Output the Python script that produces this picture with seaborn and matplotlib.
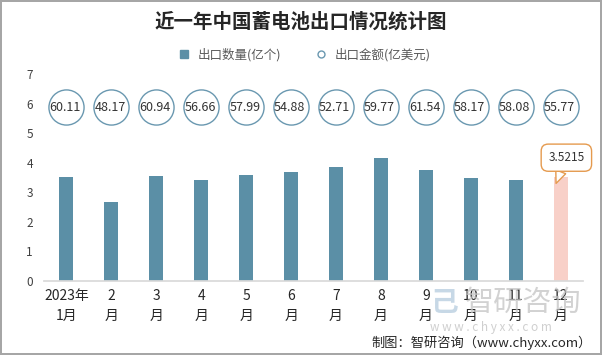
import matplotlib
matplotlib.use("Agg")
import matplotlib.pyplot as plt
import seaborn as sns
from matplotlib.lines import Line2D

# data
months = ["2023年\n1月", "2\n月", "3\n月", "4\n月", "5\n月", "6\n月",
          "7\n月", "8\n月", "9\n月", "10\n月", "11\n月", "12\n月"]
qty = [3.52, 2.68, 3.55, 3.43, 3.57, 3.67, 3.84, 4.15, 3.77, 3.47, 3.40, 3.5215]
amount = [60.11, 48.17, 60.94, 56.66, 57.99, 54.88, 52.71, 59.77, 61.54, 58.17, 58.08, 55.77]
bubble_y = [5.88] * 12

bar_color = "#5B8FA6"
last_color = "#F8D0C8"
orange = "#E59A4E"

sns.set_theme(style="white")
plt.rcParams["font.family"] = ["Noto Sans CJK SC", "DejaVu Sans"]

fig = plt.figure(figsize=(6.02, 3.55), dpi=100)
fig.patch.set_edgecolor("#A6A6A6")
fig.patch.set_linewidth(1.5)
ax = fig.add_axes([44 / 602, 1 - 281 / 355, 539 / 602, 207 / 355])

colors = [bar_color] * 11 + [last_color]
sns.barplot(x=months, y=qty, hue=months, palette=colors, legend=False,
            width=0.31, ax=ax, linewidth=0, saturation=1)

xs = list(range(len(months)))
sns.scatterplot(x=xs, y=bubble_y, s=640, facecolor="white", edgecolor="#6A98B0",
                linewidth=1, ax=ax, zorder=3, legend=False)
for x, y, v in zip(xs, bubble_y, amount):
    ax.text(x - 0.03, y, f"{v:.2f}", ha="center", va="center", fontsize=9,
            color="#333333", zorder=4)

# callout on the last bar
ax.annotate("3.5215", xy=(10.9, 3.3), xytext=(11.13, 4.17),
            ha="center", va="center", fontsize=8.5, color="#333333",
            bbox=dict(boxstyle="round,pad=0.6", fc="white", ec=orange, lw=1),
            arrowprops=dict(arrowstyle="wedge,tail_width=0.9", fc="white", ec=orange,
                            lw=1, shrinkA=0, shrinkB=0),
            zorder=5)

ax.set_ylim(0, 7)
ax.set_xlim(-0.5, 11.5)
ax.set_yticks(range(8))
ax.tick_params(axis="y", labelsize=8.5, labelcolor="#404040", pad=8, length=0)
ax.tick_params(axis="x", labelsize=10, labelcolor="#262626", pad=6, length=0)
for lab in ax.get_xticklabels():
    lab.set_linespacing(1.5)
ax.set_xlabel("")
ax.set_ylabel("")
sns.despine(ax=ax, left=True)
ax.spines["bottom"].set_color("#D9D9D9")

handles = [
    Line2D([], [], marker="s", linestyle="", markersize=6, color=bar_color),
    Line2D([], [], marker="o", linestyle="", markersize=5, markerfacecolor="white",
           markeredgecolor="#6A98B0"),
]
fig.legend(handles, ["出口数量(亿个)", "出口金额(亿美元)"], loc="center",
           bbox_to_anchor=(0.5, 1 - 55 / 355), ncol=2, frameon=False, fontsize=9,
           handletextpad=0.1, columnspacing=2.2, labelcolor="#595959")

fig.text(0.5, 1 - 22 / 355, "近一年中国蓄电池出口情况统计图", ha="center", va="center",
         fontsize=14, fontweight="bold", color="#262626")

# watermark
fig.text(465 / 602, 1 - 303 / 355, "智研咨询", ha="left", va="center", fontsize=21,
         color="#C4C4C4", alpha=0.75)
fig.text(430 / 602, 1 - 327 / 355, "w w w . c h y x x . c o m", ha="left", va="center",
         fontsize=8.5, color="#CFCFCF")
fig.text(430 / 602, 1 - 303 / 355, "己", ha="left", va="center", fontsize=20,
         color="#B9CFE0", alpha=0.8, fontweight="bold")

fig.text(0.983, 1 - 343 / 355, "制图：智研咨询（www.chyxx.com）", ha="right", va="center",
         fontsize=9.5, color="#262626")

fig.savefig("out.png", dpi=100, edgecolor=fig.get_edgecolor())
